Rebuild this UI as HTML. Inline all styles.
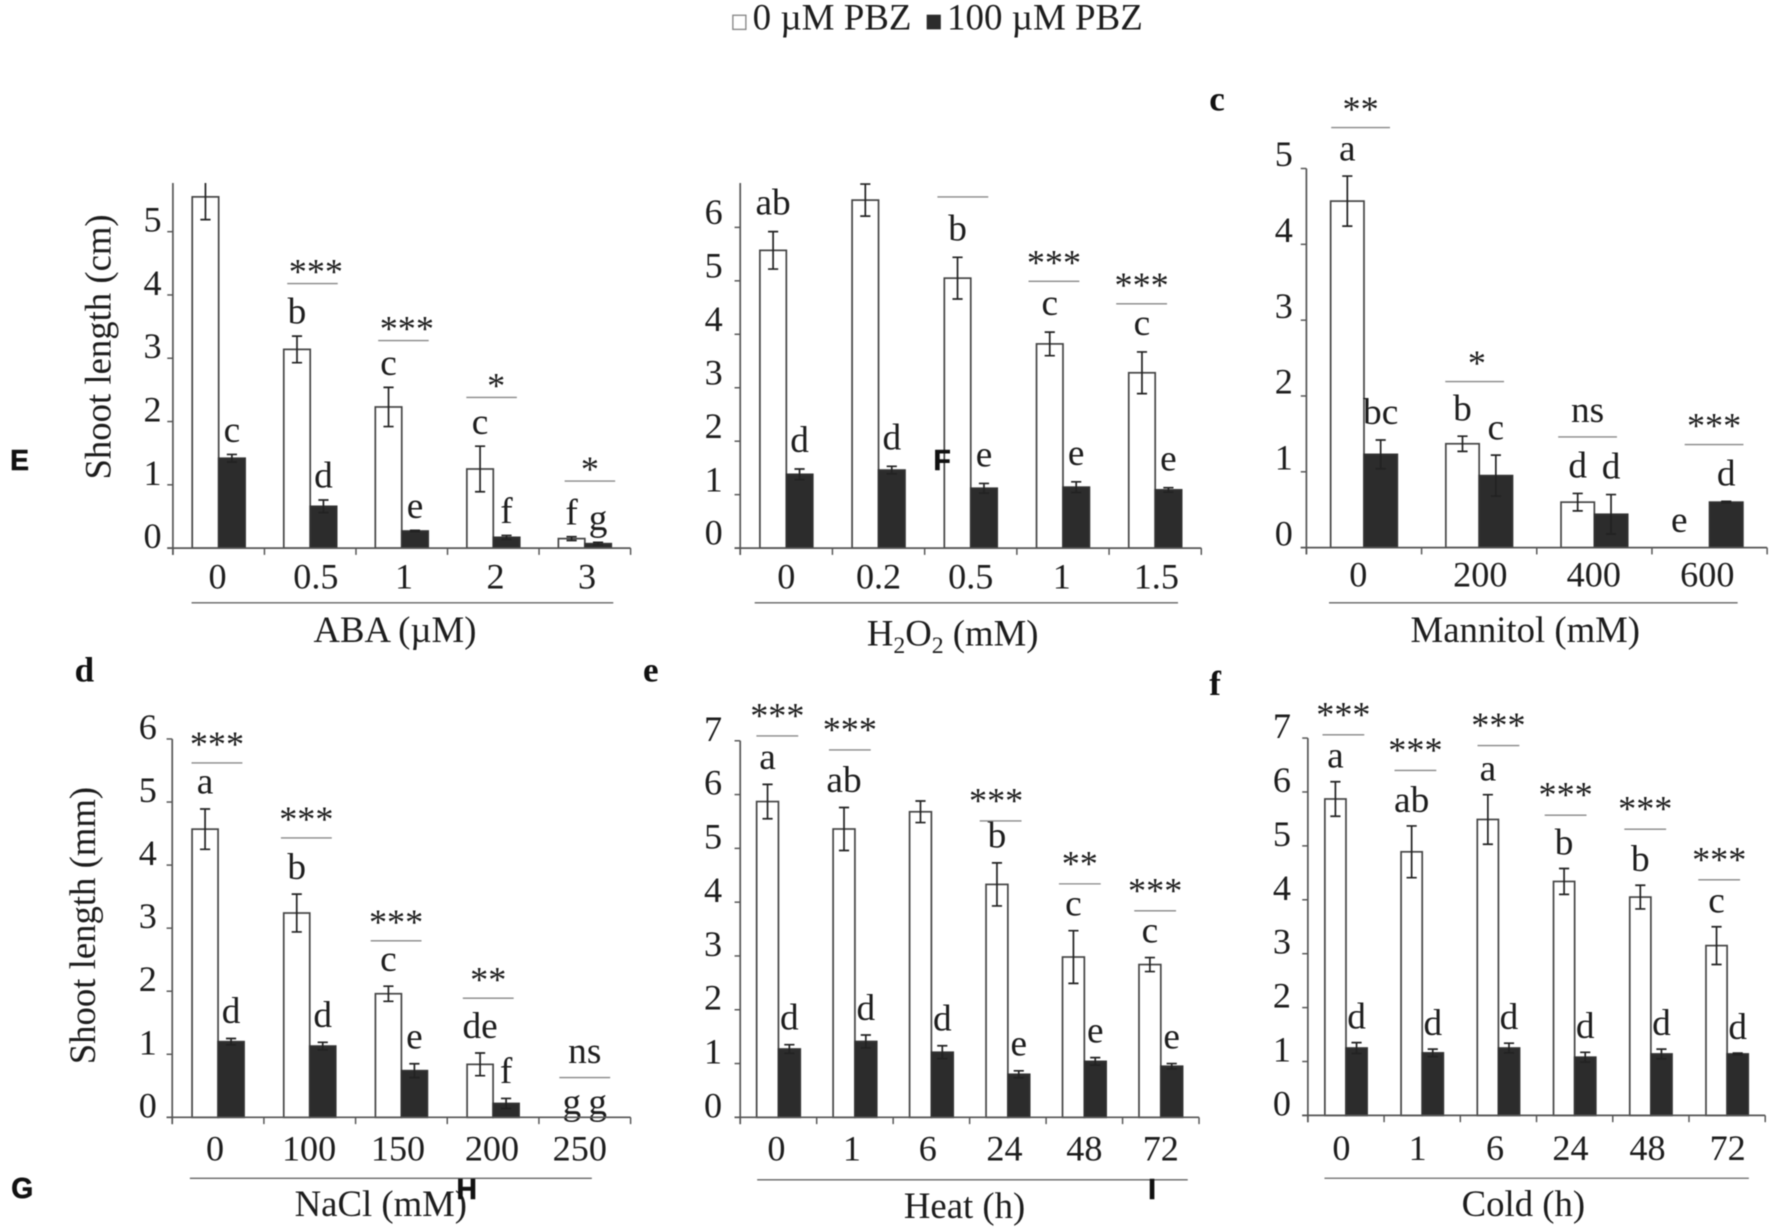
<!DOCTYPE html>
<html lang="en">
<head>
<meta charset="utf-8">
<title>Shoot length under stress with and without PBZ</title>
<style>
  html, body { margin: 0; padding: 0; background: #fff; }
  svg { display: block; width: 1772px; height: 1230px; filter: blur(0.6px); }
  text { font-family: "Liberation Serif", "Times New Roman", serif; fill: #1d1d1d; }
  .panel-tag { font-family: "Liberation Sans", Arial, sans-serif; font-weight: 700; font-size: 25px; fill: #111; stroke: #111; stroke-width: 0.5px; }
  .panel-letter { font-family: "Liberation Serif", serif; font-weight: 700; font-size: 31px; fill: #111; }
</style>
</head>
<body>
<svg id="figure" xmlns="http://www.w3.org/2000/svg" viewBox="0 0 1568 1088.4">
  <g>
    <rect x="648.5" y="13.5" width="11.5" height="12.5" fill="#fff" stroke="#888" stroke-width="1.2"/>
    <text x="666" y="26" font-size="32.7">0 µM PBZ</text>
    <rect x="820" y="13" width="12.5" height="13" fill="#2b2b2b"/>
    <text x="838" y="26" font-size="32.7">100 µM PBZ</text>
  </g>
  <g id="panels"></g>
  <text class="panel-tag" x="9" y="416">E</text>
  <text class="panel-tag" x="826" y="416">F</text>
  <text class="panel-tag" x="10" y="1060">G</text>
  <text class="panel-tag" x="404" y="1061">H</text>
  <text class="panel-tag" x="1016" y="1061">I</text>
  <text class="panel-letter" x="1070" y="98">c</text>
  <text class="panel-letter" x="66" y="603">d</text>
  <text class="panel-letter" x="569" y="603">e</text>
  <text class="panel-letter" x="1070" y="615">f</text>
</svg>
<script>
// ---- ABA ----
const abaCategories = ['0', '0.5', '1', '2', '3'];
const abaTicks = [0, 1, 2, 3, 4, 5];
const abaControl = [5.55, 3.14, 2.23, 1.25, 0.15];
const abaTreated = [1.42, 0.66, 0.27, 0.17, 0.07];
const abaControlErr = [0.36, 0.21, 0.31, 0.36, 0.03];
const abaTreatedErr = [0.06, 0.10, 0.01, 0.03, 0.02];
const abaControlLetters = ['', 'b', 'c', 'c', 'f'];
const abaTreatedLetters = ['c', 'd', 'e', 'f', 'g'];
const abaSigLevels = [null, 4.18, 3.28, 2.38, 1.06];
const abaSigMarks = ['', '***', '***', '*', '*'];
// ---- H2O2 ----
const h2o2Categories = ['0', '0.2', '0.5', '1', '1.5'];
const h2o2Ticks = [0, 1, 2, 3, 4, 5, 6];
const h2o2Control = [5.57, 6.51, 5.05, 3.82, 3.28];
const h2o2Treated = [1.38, 1.46, 1.12, 1.14, 1.09];
const h2o2ControlErr = [0.35, 0.30, 0.39, 0.22, 0.39];
const h2o2TreatedErr = [0.10, 0.07, 0.09, 0.10, 0.04];
const h2o2ControlLetters = ['ab', '', 'b', 'c', 'c'];
const h2o2TreatedLetters = ['d', 'd', 'e', 'e', 'e'];
const h2o2SigLevels = [null, null, 6.57, 4.99, 4.57];
const h2o2SigMarks = ['', '', '', '***', '***'];
// ---- Mannitol ----
const mannitolCategories = ['0', '200', '400', '600'];
const mannitolTicks = [0, 1, 2, 3, 4, 5];
const mannitolControl = [4.57, 1.37, 0.60, 0];
const mannitolTreated = [1.23, 0.95, 0.44, 0.60];
const mannitolControlErr = [0.33, 0.10, 0.115, 0];
const mannitolTreatedErr = [0.19, 0.27, 0.26, 0.01];
const mannitolControlLetters = ['a', 'b', 'd', 'e'];
const mannitolTreatedLetters = ['bc', 'c', 'd', 'd'];
const mannitolSigLevels = [5.54, 2.19, 1.46, 1.36];
const mannitolSigMarks = ['**', '*', 'ns', '***'];
// ---- NaCl ----
const naclCategories = ['0', '100', '150', '200', '250'];
const naclTicks = [0, 1, 2, 3, 4, 5, 6];
const naclControl = [4.57, 3.24, 1.96, 0.84, 0];
const naclTreated = [1.20, 1.13, 0.74, 0.22, 0];
const naclControlErr = [0.32, 0.30, 0.12, 0.18, 0];
const naclTreatedErr = [0.05, 0.06, 0.11, 0.08, 0];
const naclControlLetters = ['a', 'b', 'c', 'de', 'g'];
const naclTreatedLetters = ['d', 'd', 'e', 'f', 'g'];
const naclSigLevels = [5.62, 4.43, 2.80, 1.89, 0.63];
const naclSigMarks = ['***', '***', '***', '**', 'ns'];
// ---- Heat ----
const heatCategories = ['0', '1', '6', '24', '48', '72'];
const heatTicks = [0, 1, 2, 3, 4, 5, 6, 7];
const heatControl = [5.87, 5.36, 5.68, 4.33, 2.98, 2.84];
const heatTreated = [1.27, 1.41, 1.21, 0.80, 1.04, 0.95];
const heatControlErr = [0.32, 0.40, 0.20, 0.40, 0.49, 0.13];
const heatTreatedErr = [0.08, 0.12, 0.12, 0.065, 0.07, 0.05];
const heatControlLetters = ['a', 'ab', '', 'b', 'c', 'c'];
const heatTreatedLetters = ['d', 'd', 'd', 'e', 'e', 'e'];
const heatSigLevels = [7.09, 6.83, null, 5.51, 4.34, 3.84];
const heatSigMarks = ['***', '***', '', '***', '**', '***'];
// ---- Cold ----
const coldCategories = ['0', '1', '6', '24', '48', '72'];
const coldTicks = [0, 1, 2, 3, 4, 5, 6, 7];
const coldControl = [5.87, 4.89, 5.49, 4.34, 4.05, 3.15];
const coldTreated = [1.25, 1.16, 1.25, 1.08, 1.14, 1.14];
const coldControlErr = [0.32, 0.48, 0.46, 0.24, 0.22, 0.35];
const coldTreatedErr = [0.10, 0.07, 0.09, 0.09, 0.09, 0.015];
const coldControlLetters = ['a', 'ab', 'a', 'b', 'b', 'c'];
const coldTreatedLetters = ['d', 'd', 'd', 'd', 'd', 'd'];
const coldSigLevels = [7.06, 6.40, 6.86, 5.57, 5.31, 4.37];
const coldSigMarks = ['***', '***', '***', '***', '***', '***'];

const panels = [
  { id: 'aba', cats: abaCategories, ticks: abaTicks, ctl: abaControl, trt: abaTreated, ctlErr: abaControlErr, trtErr: abaTreatedErr,
    ctlLet: abaControlLetters, trtLet: abaTreatedLetters, sig: abaSigLevels, marks: abaSigMarks,
    left: 153, right: 558, base: 485, unit: 56, yMax: 5.77, barW: 23.4, gap: 11, zeroGap: 11, zeroDx: 0,
    sigDx: [0, 2, 1.5, -1.5, 4.5], sigW: 44.7, starLift: 0, starDx: [0, 3, 3, 4, 0], tickDx: -18, tickDy: 0, catDx: [-1, 5, 2, 2, 2], catY: 520.6,
    ruleY: 533.4, ruleX: [169.5, 542.7], title: 'ABA (µM)', titleX: 349.5, titleY: 568,
    yTitle: 'Shoot length (cm)', yTitleX: 97.6, yTitleY: 307 },
  { id: 'h2o2', cats: h2o2Categories, ticks: h2o2Ticks, ctl: h2o2Control, trt: h2o2Treated, ctlErr: h2o2ControlErr, trtErr: h2o2TreatedErr,
    ctlLet: h2o2ControlLetters, trtLet: h2o2TreatedLetters, sig: h2o2SigLevels, marks: h2o2SigMarks,
    left: 655, right: 1063, base: 485, unit: 47.3, yMax: 6.83, barW: 23.4, gap: 15, zeroGap: 15, zeroDx: 0,
    sigDx: [0, 0, -7, -8, -12], sigW: 45, starLift: 6, starDx: [0, 0, 0, 0, 0], tickDx: -23.5, tickDy: -3, catDx: [0, 0, 0, -1, 1], catY: 520.6,
    ruleY: 533.4, ruleX: [667.8, 1042.4], title: 'H2O2', titleX: 843, titleY: 571 },
  { id: 'mannitol', cats: mannitolCategories, ticks: mannitolTicks, ctl: mannitolControl, trt: mannitolTreated, ctlErr: mannitolControlErr, trtErr: mannitolTreatedErr,
    ctlLet: mannitolControlLetters, trtLet: mannitolTreatedLetters, sig: mannitolSigLevels, marks: mannitolSigMarks,
    left: 1156, right: 1563.7, base: 484.6, unit: 67.1, yMax: 5, barW: 29.5, gap: 14, zeroGap: 14, zeroDx: -12,
    sigDx: [-3, -4, -6, 4], sigW: 52, starLift: 6, starDx: [0, 2, 0, 0], tickDx: -20, tickDy: -2, catDx: [-5, 1, -0.5, -2], catY: 519,
    ruleY: 533.4, ruleX: [1176, 1537.6], title: 'Mannitol (mM)', titleX: 1349.7, titleY: 568 },
  { id: 'nacl', cats: naclCategories, ticks: naclTicks, ctl: naclControl, trt: naclTreated, ctlErr: naclControlErr, trtErr: naclTreatedErr,
    ctlLet: naclControlLetters, trtLet: naclTreatedLetters, sig: naclSigLevels, marks: naclSigMarks,
    left: 152.4, right: 558, base: 988.7, unit: 55.8, yMax: 6, barW: 23, gap: 13.5, zeroGap: 3, zeroDx: 0,
    sigDx: [-1, -3, -4.7, -4.3, 0], sigW: 45, starLift: 6, starDx: [0, 0, 0, 0, 0], tickDx: -21.6, tickDy: 0, catDx: [-2.7, -0.6, -3, -1, -4.4], catY: 1027,
    ruleY: 1042.7, ruleX: [168, 523.7], title: 'NaCl (mM)', titleX: 337, titleY: 1076,
    yTitle: 'Shoot length (mm)', yTitleX: 84, yTitleY: 819 },
  { id: 'heat', cats: heatCategories, ticks: heatTicks, ctl: heatControl, trt: heatTreated, ctlErr: heatControlErr, trtErr: heatTreatedErr,
    ctlLet: heatControlLetters, trtLet: heatTreatedLetters, sig: heatSigLevels, marks: heatSigMarks,
    left: 655, right: 1061, base: 988.7, unit: 47.6, yMax: 7, barW: 19.3, gap: 13.5, zeroGap: 13.5, zeroDx: 0,
    sigDx: [-1, -4.5, 0, -6.4, -4, -5], sigW: 37, starLift: 7.5, starDx: [0, 0, 0, -4, 0, 0], tickDx: -24, tickDy: 0, catDx: [-1.8, -2.7, -3.2, -3, 0, 0], catY: 1027,
    ruleY: 1044, ruleX: [670, 1051], title: 'Heat (h)', titleX: 853.5, titleY: 1077.8 },
  { id: 'cold', cats: coldCategories, ticks: coldTicks, ctl: coldControl, trt: coldTreated, ctlErr: coldControlErr, trtErr: coldTreatedErr,
    ctlLet: coldControlLetters, trtLet: coldTreatedLetters, sig: coldSigLevels, marks: coldSigMarks,
    left: 1157.3, right: 1562, base: 987, unit: 47.7, yMax: 7, barW: 18.7, gap: 12.5, zeroGap: 12.5, zeroDx: 0,
    sigDx: [-2.3, -6, 0, -8, -5, -7], sigW: 37, starLift: 7.5, starDx: [0, 0, 0, 0, 0, 0], tickDx: -23, tickDy: 0, catDx: [-4, -4, -3, -3.7, -3, 0.5], catY: 1026.6,
    ruleY: 1042.6, ruleX: [1172, 1547.5], title: 'Cold (h)', titleX: 1348, titleY: 1076 }
];

const SVG_NS = 'http://www.w3.org/2000/svg';
function make(tag, attrs, parent) {
  const el = document.createElementNS(SVG_NS, tag);
  for (const k in attrs) el.setAttribute(k, attrs[k]);
  parent.appendChild(el);
  return el;
}

function drawPanel(p) {
  const n = p.cats.length;
  const band = (p.right - p.left) / n;
  const xCenter = i => p.left + band * (i + 0.5);
  const y = v => p.base - v * p.unit;
  const axisColor = '#555';
  const root = document.getElementById('panels');

  const g = make('g', {}, root);
  
  

  // bars and error bars
  function bar(i, series, v, err, letter) {
    const isCtl = series === 'control';
    const x = isCtl ? xCenter(i) - p.barW : xCenter(i);
    const mid = x + p.barW / 2;
    if (v > 0) {
      const r = make('rect', { x: x, y: y(v), width: p.barW, height: p.base - y(v),
        fill: isCtl ? '#fff' : '#2c2c2c', stroke: isCtl ? '#444' : '#333', 'stroke-width': 1.5 }, g);
      
      
      const topV = Math.min(v + err, p.yMax);
      const e = make('path', {
        d: 'M' + mid + ' ' + y(topV) + 'V' + y(v - err) +
           (v + err <= p.yMax ? 'M' + (mid - 4.5) + ' ' + y(topV) + 'h9' : '') +
           'M' + (mid - 4.5) + ' ' + y(v - err) + 'h9',
        fill: 'none', stroke: '#222', 'stroke-width': 1.5 }, g);
      
      
    }
    if (letter) {
      const ly = v > 0 ? y(Math.min(v + err, p.yMax)) - p.gap : p.base - p.zeroGap;
      const t = make('text', { x: v > 0 ? mid : mid + p.zeroDx, y: ly, 'text-anchor': 'middle', 'font-size': 33 }, g);
      t.textContent = letter;
      
      
    }
  }
  p.cats.forEach((c, i) => {
    bar(i, 'control', p.ctl[i], p.ctlErr[i], p.ctlLet[i]);
    bar(i, 'treated', p.trt[i], p.trtErr[i], p.trtLet[i]);
  });

  // axes
  const axY = make('path', { d: 'M' + p.left + ' ' + y(p.yMax) + 'V' + (p.base + 6), fill: 'none', stroke: axisColor, 'stroke-width': 1.5 }, g);
  
  
  const axX = make('path', { d: 'M' + (p.left - 5) + ' ' + p.base + 'H' + p.right, fill: 'none', stroke: axisColor, 'stroke-width': 1.5 }, g);
  
  

  p.ticks.forEach(v => {
    const tk = make('path', { d: 'M' + (p.left - 5) + ' ' + y(v) + 'H' + p.left, fill: 'none', stroke: axisColor, 'stroke-width': 1.3 }, g);
    
    
    const lb = make('text', { x: p.left + p.tickDx, y: y(v) + p.tickDy, 'text-anchor': 'middle', 'font-size': 32 }, g);
    lb.textContent = String(v);
    
    
  });

  for (let i = 0; i <= n; i++) {
    const tk = make('path', { d: 'M' + (p.left + band * i) + ' ' + p.base + 'v6', fill: 'none', stroke: axisColor, 'stroke-width': 1.3 }, g);
    
    
  }
  p.cats.forEach((c, i) => {
    const lb = make('text', { x: xCenter(i) + p.catDx[i], y: p.catY, 'text-anchor': 'middle', 'font-size': 32 }, g);
    lb.textContent = c;
    
    
  });

  // significance brackets
  p.sig.forEach((lvl, i) => {
    if (lvl === null) return;
    const cx = xCenter(i) + p.sigDx[i];
    const ln = make('path', { d: 'M' + (cx - p.sigW / 2) + ' ' + y(lvl) + 'h' + p.sigW, fill: 'none', stroke: '#888', 'stroke-width': 1.2 }, g);
    
    
    const mark = p.marks[i];
    if (mark) {
      const isNs = mark === 'ns';
      const t = make('text', { x: cx + p.starDx[i], y: y(lvl) - (isNs ? 13 : p.starLift), 'text-anchor': 'middle', 'font-size': isNs ? 33 : 32 }, g);
      t.textContent = mark;
      
      
    }
  });

  // x group rule and title
  const rule = make('path', { d: 'M' + p.ruleX[0] + ' ' + p.ruleY + 'H' + p.ruleX[1], fill: 'none', stroke: '#666', 'stroke-width': 1.2 }, g);
  
  

  const title = make('text', { x: p.titleX, y: p.titleY, 'text-anchor': 'middle', 'font-size': 32.5 }, g);
  
  
  if (p.title === 'H2O2') {
    title.appendChild(document.createTextNode('H'));
    make('tspan', { dy: 7, 'font-size': 21 }, title).textContent = '2';
    make('tspan', { dy: -7 }, title).textContent = 'O';
    make('tspan', { dy: 7, 'font-size': 21 }, title).textContent = '2';
    make('tspan', { dy: -7 }, title).textContent = ' (mM)';
  } else {
    title.textContent = p.title;
  }

  if (p.yTitle) {
    const yt = make('text', { x: p.yTitleX, y: p.yTitleY, 'text-anchor': 'middle', 'font-size': 32.5,
      transform: 'rotate(-90 ' + p.yTitleX + ' ' + p.yTitleY + ')' }, g);
    yt.textContent = p.yTitle;
    
    
  }
}

panels.forEach(drawPanel);
</script>
</body>
</html>
